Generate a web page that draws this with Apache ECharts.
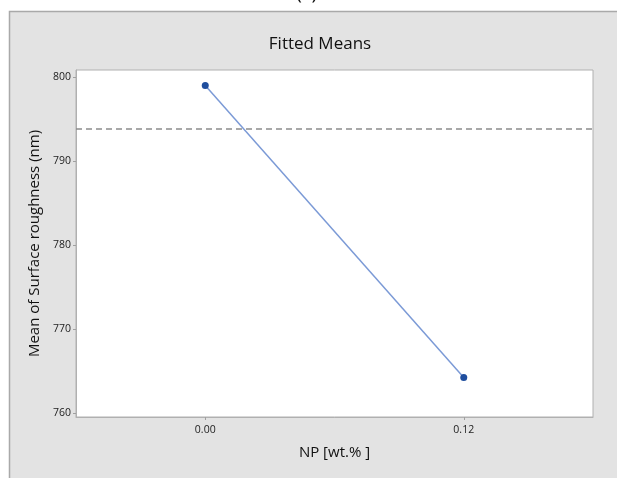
<!DOCTYPE html>
<html><head><meta charset="utf-8">
<script src="https://cdn.jsdelivr.net/npm/echarts@6/dist/echarts.min.js"></script>
<style>html,body{margin:0;padding:0;background:#fff}#c{width:617px;height:478px}</style>
</head><body><div id="c"></div>
<script>
const xValues = [0.00, 0.12];
const xTickLabels = ['0.00', '0.12'];
const fittedMeans = [799.0, 764.2];
const overallMean = 793.9;
const yTicks = [760, 770, 780, 790, 800];

const chart = echarts.init(document.getElementById('c'));
const font = 'Open Sans';
chart.setOption({
  animation: false,
  backgroundColor: '#ffffff',
  graphic: [
    {type: 'rect', z: -10, shape: {x: 9.5, y: 11.5, width: 620, height: 480},
     style: {fill: '#e3e3e3', stroke: '#a9a9a9', lineWidth: 1.5}},
    {type: 'text', left: 296, top: -17, z: -5,
     style: {text: '(c)', font: '20px "' + font + '"', fill: '#111'}}
  ],
  title: {
    text: 'Fitted Means', left: 315, top: 31, textAlign: 'center',
    textStyle: {fontFamily: font, fontSize: 17, fontWeight: 'normal', color: '#111'}
  },
  grid: {left: 76, right: 24, top: 70, bottom: 61, show: true,
         backgroundColor: '#ffffff', borderColor: '#b0b0b0', borderWidth: 1},
  xAxis: {
    type: 'value', min: -0.06, max: 0.18,
    name: 'NP [wt.% ]', nameLocation: 'middle', nameGap: 28,
    nameTextStyle: {fontFamily: font, fontSize: 15, color: '#111'},
    axisLine: {show: true, onZero: false, lineStyle: {color: '#b0b0b0'}},
    axisTick: {show: true, length: 3, customValues: xValues, lineStyle: {color: '#a0a0a0'}},
    axisLabel: {customValues: xValues, margin: 8, fontFamily: font, fontSize: 10.5, color: '#222',
      formatter: v => xTickLabels[xValues.findIndex(x => Math.abs(x - v) < 1e-9)] || ''},
    splitLine: {show: false}
  },
  yAxis: {
    type: 'value', min: 759.5, max: 800.85,
    name: 'Mean of Surface roughness (nm)', nameLocation: 'middle', nameGap: 34,
    nameTextStyle: {fontFamily: font, fontSize: 15, color: '#111'},
    axisLine: {show: true, onZero: false, lineStyle: {color: '#b0b0b0'}},
    axisTick: {show: true, length: 3, customValues: yTicks, lineStyle: {color: '#a0a0a0'}},
    axisLabel: {customValues: yTicks, margin: 5, fontFamily: font, fontSize: 10.5, color: '#222'},
    splitLine: {show: false}
  },
  series: [
    {type: 'line', data: xValues.map((x, i) => [x, fittedMeans[i]]),
     symbol: 'circle', symbolSize: 7,
     itemStyle: {color: '#1f4e9e'},
     lineStyle: {color: '#7b9ad6', width: 1.5},
     markLine: {silent: true, symbol: 'none', label: {show: false},
       lineStyle: {color: '#8c8c8c', type: [6, 4], width: 1.5},
       data: [{yAxis: overallMean}]}
    }
  ]
});
</script></body></html>
